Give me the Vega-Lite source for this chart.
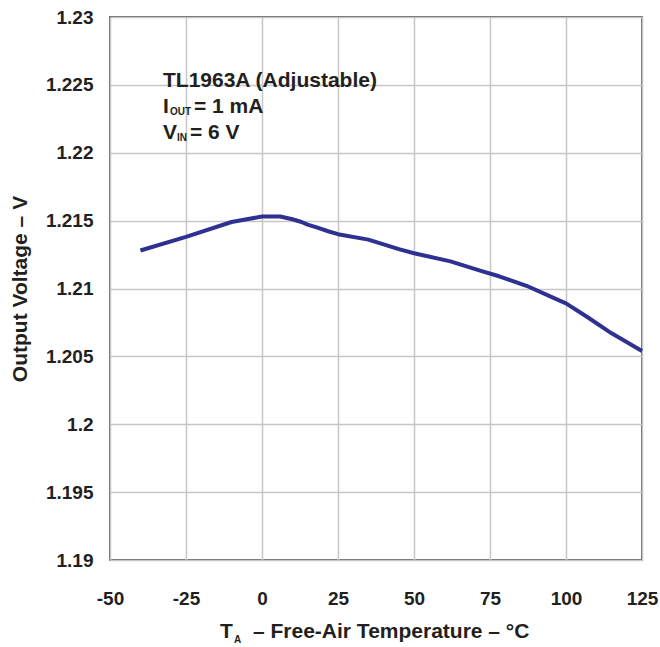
{
  "$schema": "https://vega.github.io/schema/vega-lite/v6.json",
  "width": 532,
  "height": 543,
  "autosize": {"type": "none"},
  "padding": {"left": 110, "top": 17, "right": 18, "bottom": 87},
  "background": "white",
  "config": {
    "view": {"stroke": "#333333", "strokeWidth": 1.5},
    "font": "Liberation Sans",
    "axis": {
      "domain": false,
      "ticks": false,
      "tickSize": 0,
      "grid": true,
      "gridColor": "#c6c6c6",
      "gridWidth": 1.5,
      "labelFont": "Liberation Sans",
      "labelFontSize": 19,
      "labelFontWeight": "bold",
      "labelColor": "#231f20",
      "labelFlush": false,
      "labelOverlap": false,
      "titleFont": "Liberation Sans",
      "titleFontSize": 21,
      "titleFontWeight": "bold",
      "titleColor": "#231f20"
    }
  },
  "datasets": {
    "curve": [
      {"T": -40, "V": 1.2128},
      {"T": -25, "V": 1.2138},
      {"T": -10, "V": 1.2149},
      {"T": -5, "V": 1.2151},
      {"T": 0, "V": 1.2153},
      {"T": 6, "V": 1.2153},
      {"T": 10, "V": 1.2151},
      {"T": 13, "V": 1.2149},
      {"T": 15, "V": 1.2147},
      {"T": 18, "V": 1.2145},
      {"T": 22, "V": 1.2142},
      {"T": 25, "V": 1.2140},
      {"T": 35, "V": 1.2136},
      {"T": 45, "V": 1.2129},
      {"T": 50, "V": 1.2126},
      {"T": 62, "V": 1.2120},
      {"T": 72, "V": 1.2113},
      {"T": 78, "V": 1.2109},
      {"T": 87, "V": 1.2102},
      {"T": 97, "V": 1.2092},
      {"T": 100, "V": 1.2089},
      {"T": 107, "V": 1.2079},
      {"T": 115, "V": 1.2067},
      {"T": 125, "V": 1.2054}
    ],
    "labels": [
      {"T": -32.57, "V": 1.224822, "label": "TL1963A (Adjustable)"},
      {"T": -32.57, "V": 1.222907, "label": "I"},
      {"T": -22.40, "V": 1.222907, "label": "= 1 mA"},
      {"T": -32.57, "V": 1.220991, "label": "V"},
      {"T": -23.68, "V": 1.220991, "label": "= 6 V"},
      {"T": -13.82, "V": 1.184256, "label": "T"},
      {"T": -2.96, "V": 1.184256, "label": "– Free-Air Temperature – °C"}
    ],
    "subscripts": [
      {"T": -30.26, "V": 1.222796, "label": "OUT"},
      {"T": -27.96, "V": 1.220866, "label": "IN"},
      {"T": -9.21, "V": 1.183889, "label": "A"}
    ]
  },
  "encoding": {
    "x": {
      "field": "T",
      "type": "quantitative",
      "scale": {"domain": [-50, 125], "nice": false, "zero": false},
      "axis": {
        "values": [-50, -25, 0, 25, 50, 75, 100, 125],
        "title": null,
        "labelPadding": 29,
        "labelExpr": "replace(datum.label, '−', '-')"
      }
    },
    "y": {
      "field": "V",
      "type": "quantitative",
      "scale": {"domain": [1.19, 1.23], "nice": false, "zero": false},
      "axis": {
        "values": [1.19, 1.195, 1.2, 1.205, 1.21, 1.215, 1.22, 1.225, 1.23],
        "format": "~g",
        "title": "Output Voltage – V",
        "labelPadding": 17,
        "titlePadding": 15
      }
    }
  },
  "layer": [
    {
      "data": {"name": "curve"},
      "mark": {"type": "line", "color": "#2e3192", "strokeWidth": 4, "strokeJoin": "round"}
    },
    {
      "data": {"name": "labels"},
      "mark": {"type": "text", "align": "left", "baseline": "alphabetic", "font": "Liberation Sans", "fontWeight": "bold", "fontSize": 21, "color": "#231f20"},
      "encoding": {"text": {"field": "label"}}
    },
    {
      "data": {"name": "subscripts"},
      "mark": {"type": "text", "align": "left", "baseline": "alphabetic", "font": "Liberation Sans", "fontWeight": "bold", "fontSize": 10, "color": "#231f20"},
      "encoding": {"text": {"field": "label"}}
    }
  ]
}
